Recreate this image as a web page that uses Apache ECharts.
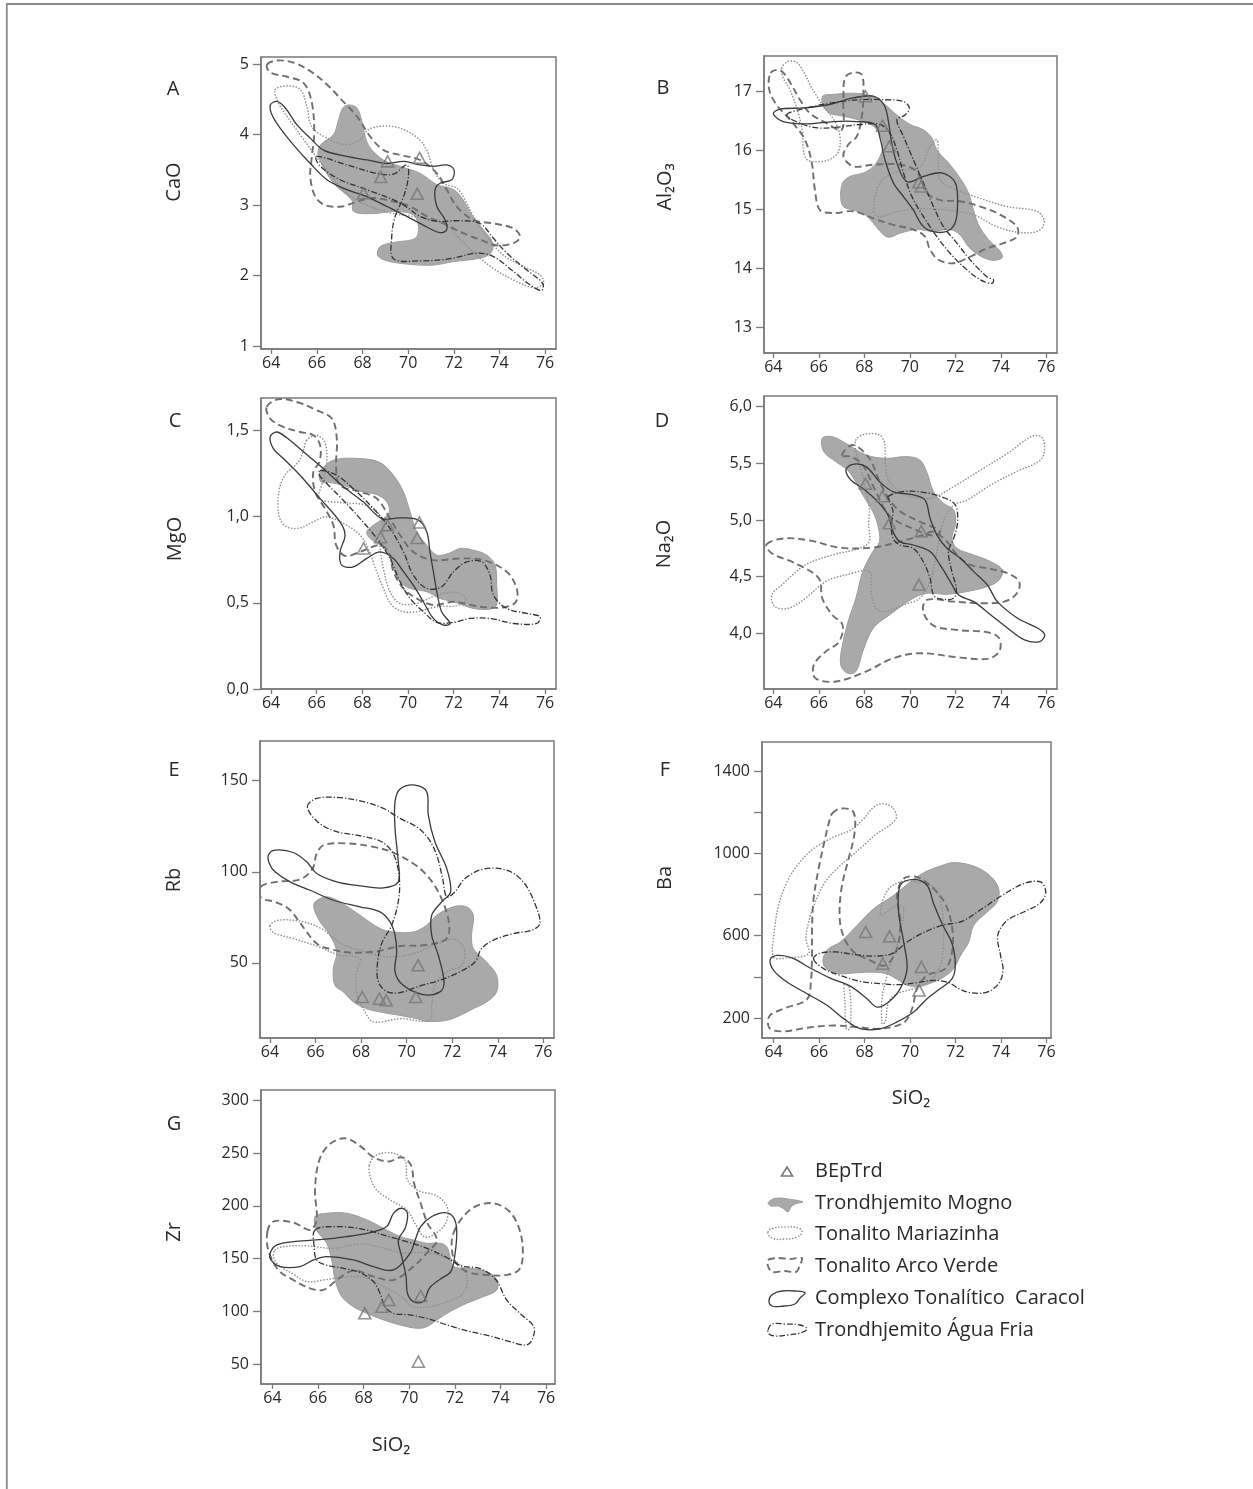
<!DOCTYPE html>
<html><head><meta charset="utf-8">
<script src="https://cdn.jsdelivr.net/npm/echarts@6/dist/echarts.min.js"></script>
<style>html,body{margin:0;padding:0;background:#fff}#c{width:1253px;height:1489px}</style>
</head><body><div id="c"></div>
<script>
// ---------- BEpTrd samples ----------
const SiO2_BEpTrd = [68.05, 68.8, 69.1, 70.4, 70.5];
const CaO_BEpTrd = [3.17, 3.40, 3.62, 3.16, 3.67];
const Al2O3_BEpTrd = [16.92, 16.42, 16.07, 15.46, 15.39];
const MgO_BEpTrd = [0.815, 0.88, 0.95, 0.875, 0.965];
const Na2O_BEpTrd = [5.32, 5.21, 4.97, 4.43, 4.90];
const Rb_BEpTrd = [31.3, 30.4, 29.5, 31.3, 48.7];
const Ba_BEpTrd = [618, 464, 597, 334, 448];
const Zr_BEpTrd = [98.1, 104.4, 110.8, 52.2, 114.6];

// ---------- Tick values ----------
const SiO2_ticks = [64, 66, 68, 70, 72, 74, 76];
const CaO_ticks = [1, 2, 3, 4, 5];
const Al2O3_ticks = [13, 14, 15, 16, 17];
const MgO_ticks = [0, 0.5, 1.0, 1.5];
const Na2O_ticks = [4.0, 4.5, 5.0, 5.5, 6.0];
const Rb_ticks = [50, 100, 150];
const Ba_ticks = [200, 400, 600, 800, 1000, 1200, 1400];
const Ba_labels = [200, 600, 1000, 1400];
const Zr_ticks = [50, 100, 150, 200, 250, 300];

// ---------- Field outlines (SiO2, oxide) ----------
// A: CaO
const A_Mogno = [[[67.39,4.42],[67.75,4.38],[67.97,4.19],[68.12,3.97],[68.34,3.81],[68.92,3.64],[69.65,3.55],[70.53,3.45],[71.26,3.29],[71.99,3.22],[72.42,3.07],[72.79,2.86],[73.30,2.65],[73.71,2.46],[73.59,2.31],[73.01,2.24],[71.99,2.20],[71.11,2.15],[70.09,2.16],[69.07,2.21],[68.66,2.29],[68.77,2.41],[69.36,2.47],[70.31,2.53],[70.45,2.69],[70.23,2.86],[69.36,2.91],[68.48,2.88],[67.61,2.91],[67.53,3.07],[66.73,3.31],[66.07,3.69],[66.15,3.85],[66.73,4.00],[66.95,4.21],[67.14,4.38]]];
const A_Mariazinha = [[[64.18,4.64],[64.69,4.69],[65.27,4.64],[65.56,4.40],[65.78,4.11],[66.44,3.95],[67.31,3.86],[67.90,3.93],[68.26,4.07],[68.92,4.12],[69.65,4.09],[70.38,3.96],[70.82,3.78],[71.11,3.50],[71.55,3.31],[72.13,3.24],[72.50,3.07],[72.86,2.84],[73.45,2.55],[74.18,2.29],[75.05,2.13],[75.78,2.01],[75.93,1.89],[75.49,1.83],[74.61,1.94],[73.74,2.10],[73.01,2.29],[72.28,2.51],[71.69,2.72],[70.82,2.81],[69.36,2.88],[68.34,2.98],[67.31,3.17],[66.29,3.55],[65.42,3.93],[64.69,4.26],[64.25,4.49]]];
const A_ArcoVerde = [[[63.81,4.99],[64.25,5.05],[64.98,5.02],[65.71,4.90],[66.44,4.71],[67.09,4.49],[67.75,4.26],[68.34,3.97],[68.92,3.78],[69.65,3.71],[70.53,3.64],[71.26,3.45],[71.69,3.22],[72.13,2.98],[72.86,2.79],[73.74,2.74],[74.61,2.67],[74.91,2.55],[74.61,2.46],[73.88,2.43],[73.15,2.51],[72.28,2.62],[71.55,2.74],[70.82,2.84],[70.09,2.98],[69.36,3.05],[68.48,3.10],[67.75,3.05],[67.09,2.98],[66.36,3.00],[65.93,3.12],[65.71,3.40],[65.78,3.69],[65.88,4.02],[65.78,4.45],[65.42,4.73],[64.69,4.82],[63.96,4.88]]];
const A_Caracol = [[[63.96,4.42],[64.25,4.47],[64.61,4.38],[65.12,4.14],[65.71,3.95],[66.29,3.78],[67.31,3.69],[68.19,3.64],[69.07,3.59],[69.80,3.62],[70.53,3.57],[71.11,3.55],[71.69,3.57],[72.01,3.50],[71.91,3.36],[71.40,3.31],[71.18,3.22],[71.26,2.98],[71.62,2.79],[71.69,2.65],[71.40,2.61],[70.82,2.69],[69.94,2.84],[69.07,2.98],[68.19,3.12],[67.31,3.22],[66.44,3.36],[65.71,3.59],[64.98,3.85],[64.39,4.09],[64.03,4.28]]];
const A_AguaFria = [[[65.97,3.69],[67.31,3.57],[68.63,3.45],[69.36,3.44],[69.94,3.57],[70.01,3.40],[69.80,3.12],[69.43,2.84],[69.28,2.55],[69.36,2.24],[70.53,2.21],[71.84,2.24],[73.01,2.32],[73.74,2.27],[74.61,2.06],[75.34,1.87],[75.85,1.79],[75.90,1.89],[75.20,2.08],[74.32,2.32],[73.74,2.53],[73.15,2.74],[72.28,2.78],[71.26,2.77],[70.53,2.84],[69.65,3.03],[68.19,3.22],[67.02,3.36],[66.15,3.55]]];

// B: Al2O3
const B_Mogno = [[[66.17,16.92],[66.64,16.95],[67.52,16.97],[68.25,16.93],[68.84,16.80],[69.43,16.60],[70.01,16.44],[70.60,16.35],[70.97,16.21],[71.19,16.01],[71.70,15.79],[72.21,15.53],[72.58,15.28],[72.80,14.99],[73.02,14.74],[73.46,14.49],[73.98,14.29],[74.05,14.18],[73.61,14.14],[73.02,14.23],[72.58,14.37],[72.21,14.57],[71.77,14.66],[71.04,14.63],[70.31,14.66],[69.57,14.60],[69.06,14.53],[68.69,14.63],[68.40,14.77],[68.03,14.91],[67.52,14.99],[67.08,15.05],[66.96,15.22],[67.05,15.45],[67.37,15.56],[67.96,15.62],[68.40,15.73],[68.69,15.90],[68.81,16.07],[68.69,16.27],[68.40,16.41],[67.81,16.51],[67.08,16.58],[66.49,16.63],[66.20,16.75]]];
const B_Mariazinha = [[[64.37,17.40],[64.66,17.51],[65.03,17.49],[65.32,17.34],[65.69,17.06],[66.20,16.75],[66.71,16.49],[66.93,16.24],[66.86,15.98],[66.49,15.85],[65.91,15.81],[65.47,15.85],[65.32,16.01],[65.29,16.29],[65.10,16.63],[64.73,17.03],[64.41,17.25]],
  [[68.40,14.97],[68.69,15.45],[69.43,15.64],[70.45,15.73],[70.89,16.07],[71.19,16.18],[71.26,15.84],[71.33,15.50],[72.07,15.33],[73.10,15.19],[74.27,15.05],[75.59,14.97],[75.91,14.80],[75.66,14.64],[74.86,14.61],[73.83,14.71],[72.80,14.91],[71.63,14.99],[70.31,15.01],[69.28,14.95],[68.69,14.88]]];
const B_ArcoVerde = [[[63.88,17.31],[64.29,17.36],[64.66,17.20],[65.17,16.86],[65.61,16.63],[66.35,16.46],[67.01,16.35],[67.08,16.86],[67.15,17.23],[67.52,17.32],[67.89,17.28],[67.96,16.97],[67.89,16.58],[67.67,16.24],[67.30,16.10],[67.08,15.90],[67.52,15.73],[68.40,15.76],[69.57,15.76],[70.31,15.64],[70.75,15.28],[71.33,15.16],[72.21,15.14],[73.10,15.05],[73.98,14.91],[74.71,14.71],[74.71,14.54],[74.12,14.43],[73.39,14.34],[72.65,14.20],[71.92,14.09],[71.26,14.15],[70.89,14.32],[70.67,14.54],[70.16,14.66],[69.28,14.74],[68.40,14.85],[67.52,14.97],[66.64,14.94],[66.05,14.99],[65.83,15.33],[65.69,15.79],[65.39,16.18],[64.81,16.49],[64.15,16.77],[63.82,17.03]]];
const B_Caracol = [[[64.00,16.62],[64.29,16.70],[65.32,16.72],[66.35,16.77],[67.52,16.89],[68.40,16.92],[68.87,16.77],[69.06,16.49],[69.21,16.12],[69.43,15.79],[69.87,15.47],[70.60,15.56],[71.41,15.62],[71.99,15.46],[72.10,15.11],[71.99,14.77],[71.63,14.63],[70.97,14.63],[70.53,14.74],[70.16,14.99],[69.72,15.22],[69.28,15.45],[68.91,15.84],[68.69,16.21],[68.47,16.44],[67.67,16.49],[66.64,16.49],[65.47,16.45],[64.44,16.49]]];
const B_AguaFria = [[[64.59,16.60],[65.47,16.72],[66.64,16.81],[67.81,16.86],[68.84,16.86],[69.72,16.83],[69.98,16.72],[69.79,16.60],[69.43,16.52],[69.72,16.24],[70.16,15.84],[70.60,15.45],[71.04,15.05],[71.48,14.71],[72.07,14.43],[72.65,14.15],[73.39,13.86],[73.68,13.81],[73.61,13.75],[73.10,13.81],[72.36,14.03],[71.77,14.26],[71.19,14.54],[70.60,14.88],[70.09,15.22],[69.72,15.62],[69.43,16.01],[69.13,16.29],[68.69,16.44],[67.81,16.44],[66.93,16.40],[66.05,16.38],[65.32,16.44]]];

// C: MgO
const C_Mogno = [[[66.15,1.259],[66.73,1.326],[67.90,1.336],[68.77,1.313],[69.36,1.239],[69.80,1.143],[70.09,1.027],[70.38,0.911],[70.82,0.834],[71.26,0.776],[71.77,0.786],[72.28,0.815],[72.86,0.805],[73.45,0.776],[73.81,0.718],[73.88,0.602],[73.88,0.487],[73.59,0.463],[72.86,0.467],[71.99,0.506],[71.40,0.525],[70.82,0.564],[70.09,0.583],[69.65,0.622],[69.36,0.699],[69.21,0.776],[68.77,0.834],[68.34,0.873],[68.19,0.911],[68.48,0.950],[68.92,0.988],[69.18,1.027],[69.07,1.085],[68.63,1.127],[67.90,1.147],[67.17,1.181],[66.58,1.197],[66.18,1.201]]];
const C_Mariazinha = [[[65.56,1.442],[66.00,1.471],[66.36,1.429],[66.44,1.317],[66.26,1.201],[66.12,1.104],[67.02,1.081],[68.04,1.069],[68.63,1.031],[68.89,0.950],[68.77,0.834],[68.92,0.699],[69.21,0.564],[69.65,0.496],[70.38,0.496],[71.26,0.544],[72.13,0.560],[72.54,0.515],[72.13,0.483],[71.26,0.477],[70.38,0.448],[69.80,0.448],[69.28,0.487],[68.92,0.583],[68.55,0.708],[68.26,0.815],[67.90,0.892],[67.31,0.950],[66.44,0.998],[65.85,0.969],[65.27,0.934],[64.69,0.940],[64.36,0.998],[64.34,1.143],[64.61,1.239],[65.20,1.317],[65.42,1.384]]];
const C_ArcoVerde = [[[63.81,1.635],[64.32,1.680],[65.12,1.664],[66.00,1.616],[66.66,1.568],[66.88,1.452],[66.85,1.278],[67.02,1.181],[67.90,1.143],[68.63,1.104],[69.21,0.988],[69.65,0.892],[70.23,0.795],[71.11,0.747],[72.28,0.757],[73.30,0.747],[74.32,0.680],[74.76,0.583],[74.73,0.506],[74.32,0.477],[73.59,0.471],[72.72,0.487],[71.99,0.506],[71.11,0.487],[70.38,0.525],[69.80,0.583],[69.36,0.680],[69.18,0.786],[68.77,0.834],[67.90,0.795],[67.24,0.772],[66.85,0.834],[66.73,0.950],[66.36,1.046],[65.93,1.143],[65.85,1.259],[66.12,1.317],[66.15,1.413],[65.85,1.471],[65.27,1.490],[64.54,1.519],[63.96,1.568]]];
const C_Caracol = [[[63.96,1.461],[64.25,1.490],[64.69,1.456],[65.42,1.375],[66.29,1.278],[67.17,1.172],[68.04,1.085],[68.85,0.988],[69.65,0.992],[70.45,0.979],[70.82,0.911],[70.96,0.795],[71.11,0.680],[71.26,0.564],[71.47,0.448],[71.84,0.380],[71.55,0.371],[71.11,0.409],[70.67,0.506],[70.23,0.602],[69.80,0.680],[69.36,0.757],[68.77,0.795],[68.19,0.757],[67.61,0.708],[67.09,0.718],[67.02,0.795],[67.24,0.892],[67.02,0.969],[66.15,1.104],[65.27,1.239],[64.54,1.336],[64.10,1.394]]];
const C_AguaFria = [[[66.15,1.268],[66.88,1.239],[67.75,1.143],[68.48,1.046],[69.21,0.931],[69.80,0.795],[70.23,0.660],[70.82,0.583],[71.47,0.593],[71.99,0.680],[72.57,0.737],[73.23,0.737],[73.59,0.660],[73.74,0.544],[74.32,0.467],[75.20,0.438],[75.78,0.419],[75.64,0.380],[74.61,0.380],[73.59,0.409],[72.72,0.409],[71.99,0.386],[71.26,0.386],[70.67,0.448],[70.09,0.525],[69.65,0.622],[69.21,0.757],[68.63,0.873],[67.90,0.988],[67.09,1.104],[66.44,1.191],[66.12,1.239]]];

// D: Na2O
const D_Mogno = [[[66.15,5.721],[66.59,5.735],[67.19,5.676],[68.07,5.574],[68.96,5.544],[69.85,5.559],[70.44,5.529],[70.74,5.426],[71.04,5.250],[71.48,5.147],[71.93,5.088],[72.00,4.956],[71.85,4.838],[72.07,4.750],[72.81,4.691],[73.56,4.632],[74.07,4.559],[73.93,4.471],[73.41,4.412],[72.52,4.368],[71.63,4.344],[70.74,4.353],[70.15,4.309],[69.70,4.250],[69.11,4.162],[68.52,4.074],[68.22,3.985],[67.93,3.838],[67.63,3.662],[67.26,3.647],[66.96,3.721],[67.04,3.897],[67.33,4.132],[67.63,4.309],[67.93,4.544],[68.37,4.721],[68.67,4.809],[68.59,4.956],[68.37,5.074],[67.93,5.221],[67.33,5.426],[66.74,5.515],[66.22,5.603]]];
const D_Mariazinha = [[[67.63,5.706],[68.00,5.756],[68.67,5.750],[68.89,5.676],[68.93,5.485],[69.11,5.338],[69.85,5.221],[70.89,5.191],[71.93,5.294],[73.11,5.441],[74.30,5.588],[75.33,5.735],[75.78,5.735],[75.93,5.618],[75.70,5.521],[74.74,5.432],[73.56,5.309],[72.52,5.176],[71.93,5.132],[71.56,5.029],[71.33,4.868],[71.11,4.632],[70.89,4.456],[70.44,4.309],[69.70,4.250],[68.96,4.191],[68.52,4.221],[68.30,4.368],[68.22,4.544],[67.19,4.515],[66.30,4.456],[65.41,4.309],[64.67,4.221],[64.07,4.235],[63.93,4.338],[64.37,4.426],[65.41,4.603],[66.59,4.691],[67.78,4.750],[68.22,4.809],[68.19,4.956],[68.22,5.103],[68.07,5.250],[67.85,5.456],[67.63,5.603]]];
const D_ArcoVerde = [[[63.70,4.785],[64.52,4.838],[65.70,4.815],[66.89,4.756],[68.37,4.756],[69.56,4.809],[70.59,4.868],[71.04,4.897],[71.63,4.809],[72.07,4.691],[72.67,4.603],[73.56,4.568],[74.30,4.529],[74.81,4.456],[74.71,4.353],[74.15,4.279],[73.26,4.265],[71.93,4.279],[70.74,4.294],[70.59,4.191],[71.04,4.068],[72.07,4.029],[73.41,4.009],[73.93,3.956],[73.93,3.838],[73.41,3.774],[72.22,3.785],[70.44,3.824],[69.26,3.779],[68.07,3.662],[66.74,3.574],[65.85,3.603],[65.78,3.721],[66.30,3.838],[66.89,3.926],[67.04,4.074],[66.59,4.162],[66.15,4.309],[66.00,4.485],[64.96,4.618],[63.93,4.706]],
  [[67.01,5.568],[67.48,5.662],[68.22,5.544],[68.70,5.324],[69.41,5.103],[70.44,4.985],[71.33,4.903],[71.04,4.862],[70.15,4.921],[69.11,5.038],[68.44,5.279],[67.93,5.485],[67.41,5.559]]];
const D_Caracol = [[[67.19,5.441],[67.48,5.491],[68.07,5.471],[68.67,5.338],[69.26,5.250],[70.15,5.221],[70.67,5.176],[70.89,5.015],[71.19,4.868],[71.63,4.750],[72.22,4.662],[72.81,4.544],[73.41,4.426],[73.85,4.279],[74.74,4.132],[75.63,4.044],[75.93,3.985],[75.70,3.926],[75.04,3.941],[74.30,4.044],[73.56,4.162],[72.81,4.279],[72.15,4.338],[71.78,4.456],[71.33,4.603],[70.89,4.721],[70.15,4.779],[69.56,4.809],[69.26,4.897],[69.04,5.044],[68.59,5.162],[67.93,5.279],[67.41,5.353]]];
const D_AguaFria = [[[69.04,5.206],[69.70,5.250],[70.59,5.244],[71.48,5.197],[72.00,5.132],[72.10,4.985],[71.93,4.838],[71.70,4.721],[71.85,4.544],[72.04,4.397],[71.93,4.309],[71.33,4.303],[71.04,4.338],[70.89,4.485],[70.59,4.632],[70.15,4.750],[69.56,4.779],[69.26,4.838],[69.19,4.956],[69.26,5.074],[69.11,5.162]]];

// E: Rb
const E_Mogno = [[[65.98,83.5],[66.49,86.3],[67.07,83.5],[67.95,76.2],[68.83,68.9],[69.41,67.0],[70.29,67.0],[70.88,70.7],[71.32,76.2],[72.05,80.8],[72.63,80.8],[72.93,76.2],[72.85,65.2],[72.93,57.9],[73.51,50.5],[73.95,43.2],[73.95,34.1],[73.51,28.6],[72.93,24.9],[72.34,21.2],[71.76,18.5],[70.88,17.9],[70.44,19.4],[69.71,21.2],[68.83,23.1],[68.24,24.9],[67.66,28.6],[67.22,34.1],[66.85,37.7],[66.78,46.9],[66.93,56.0],[66.63,65.2],[66.20,72.5],[65.93,79.9]]];
const E_Mariazinha = [[[64.00,70.7],[64.37,73.4],[65.32,72.9],[66.20,69.2],[67.15,60.6],[68.10,56.4],[69.27,53.3],[70.44,55.7],[71.46,61.2],[72.12,63.0],[72.52,57.9],[72.42,48.7],[71.76,45.1],[71.24,37.7],[71.10,26.7],[71.02,18.5],[69.71,19.4],[68.54,17.6],[68.17,23.1],[67.83,32.2],[67.80,45.1],[67.95,52.4],[67.07,54.2],[66.05,59.3],[65.02,63.4],[64.15,66.7]]];
const E_ArcoVerde = [[[63.59,91.8],[64.29,94.5],[65.32,95.8],[65.87,101.8],[66.05,110.1],[66.37,114.7],[67.37,115.6],[68.54,113.7],[69.41,110.6],[70.29,104.6],[70.88,98.2],[71.39,89.0],[71.79,76.2],[71.87,67.0],[71.68,62.5],[70.73,59.7],[69.71,59.3],[68.68,56.4],[67.51,55.7],[66.56,57.9],[66.05,60.6],[65.61,67.0],[65.24,73.4],[64.80,79.9],[64.22,83.5],[63.60,85.7]]];
const E_Caracol = [[[63.93,109.2],[64.22,111.9],[65.02,110.6],[65.61,105.5],[66.05,99.1],[66.93,94.5],[67.95,92.3],[68.98,91.2],[69.63,94.5],[69.63,105.5],[69.49,123.8],[69.49,138.5],[69.71,145.4],[70.37,147.6],[70.88,144.0],[70.95,131.1],[71.24,116.5],[71.76,101.8],[71.93,89.0],[71.54,83.5],[71.10,76.2],[71.10,65.2],[71.39,54.2],[71.64,39.6],[71.46,34.1],[70.73,32.6],[69.85,37.7],[69.49,45.1],[69.56,56.0],[69.49,65.2],[69.27,72.5],[68.83,78.0],[67.95,80.8],[66.78,84.4],[65.76,89.9],[64.88,94.5],[64.22,100.0],[63.97,104.6]]];
const E_AguaFria = [[[65.64,135.7],[66.05,140.3],[67.07,140.7],[68.10,138.5],[68.98,134.8],[69.71,129.3],[70.44,124.7],[70.95,118.3],[71.32,109.2],[71.58,96.3],[71.76,86.3],[72.12,89.0],[72.56,96.3],[73.37,101.5],[74.39,100.9],[75.12,94.5],[75.63,82.6],[75.85,71.6],[75.49,67.9],[74.68,66.1],[73.81,62.5],[73.29,57.9],[73.00,50.5],[72.27,44.7],[71.46,40.5],[70.59,37.4],[69.71,33.7],[69.12,34.4],[68.76,39.6],[68.71,48.7],[68.90,60.6],[69.34,70.7],[69.63,83.5],[69.68,96.3],[69.44,109.2],[68.90,116.5],[67.95,119.8],[66.93,122.0],[66.12,127.1]]];

// F: Ba
const F_Mogno = [[[66.20,496],[66.42,537],[66.93,569],[67.67,650],[68.40,731],[69.28,796],[70.01,861],[70.60,906],[71.33,938],[71.92,955],[72.80,938],[73.53,890],[73.90,828],[73.83,764],[73.39,715],[72.80,650],[72.58,569],[72.21,501],[71.92,440],[71.55,404],[71.04,375],[70.45,355],[69.87,359],[69.43,388],[68.99,414],[68.40,423],[67.67,420],[66.93,415],[66.42,432],[66.20,459]]];
const F_Mariazinha = [[[64.00,496],[64.03,618],[64.22,747],[64.59,861],[65.10,950],[65.76,1023],[66.64,1079],[67.37,1112],[67.96,1168],[68.40,1225],[68.77,1241],[69.21,1225],[69.40,1177],[69.13,1139],[68.55,1096],[67.96,1039],[67.37,982],[66.79,926],[66.27,861],[65.83,764],[65.54,666],[65.42,585],[65.54,513],[64.59,492]],
  [[68.69,699],[68.96,812],[69.55,861],[70.31,861],[71.04,836],[71.41,731],[71.48,585],[71.33,456],[70.89,383],[70.16,343],[69.43,318],[69.06,278],[68.91,181],[68.77,172],[68.77,294],[68.99,407],[69.28,505],[69.57,618],[69.72,731],[69.43,747],[68.99,715]],
  [[67.11,367],[67.34,343],[67.37,148],[67.20,148],[67.14,278]]];
const F_ArcoVerde = [[[66.57,1193],[66.93,1217],[67.45,1209],[67.59,1160],[67.52,1071],[67.26,958],[67.01,845],[66.90,715],[67.01,618],[67.45,529],[68.25,480],[68.91,456],[69.43,537],[69.57,666],[69.43,796],[69.72,877],[70.31,885],[70.97,836],[71.55,755],[71.85,642],[71.85,521],[71.55,440],[70.75,407],[70.31,343],[70.09,245],[69.72,177],[68.69,148],[67.67,156],[66.64,164],[65.47,153],[64.44,135],[63.82,151],[63.82,210],[64.44,245],[65.47,291],[65.64,375],[65.69,504],[65.69,634],[65.76,780],[65.98,926],[66.23,1055],[66.42,1144]]];
const F_Caracol = [[[63.85,485],[64.15,504],[64.81,492],[65.61,443],[66.49,394],[67.37,355],[68.11,294],[68.55,253],[69.06,278],[69.57,343],[69.87,440],[69.72,569],[69.50,715],[69.57,845],[70.16,874],[70.75,845],[71.04,755],[71.41,658],[71.85,561],[71.99,456],[71.85,391],[71.33,343],[70.75,294],[70.16,229],[69.43,181],[68.69,148],[67.81,148],[67.08,197],[66.35,262],[65.47,318],[64.59,375],[64.00,432]]];
const F_AguaFria = [[[65.76,485],[65.98,513],[66.71,521],[67.59,508],[68.40,501],[69.21,513],[69.87,569],[70.60,615],[71.41,650],[72.29,670],[73.17,731],[74.05,796],[75.00,853],[75.74,861],[75.97,812],[75.74,760],[75.00,715],[74.27,674],[73.86,602],[73.98,504],[74.09,432],[73.90,367],[73.39,326],[72.65,323],[72.14,343],[71.70,372],[71.04,383],[70.31,372],[69.57,362],[68.69,367],[67.81,378],[66.93,407],[66.20,440]]];

// G: Zr
const G_Mogno = [[[65.87,189.9],[66.38,193.0],[67.26,193.0],[68.14,186.7],[69.01,177.2],[69.60,170.9],[70.18,167.7],[70.77,164.6],[71.35,164.6],[71.64,161.4],[71.79,151.9],[71.94,142.4],[72.67,140.8],[73.40,137.7],[73.84,129.7],[73.84,120.3],[73.25,113.9],[72.52,107.6],[71.79,99.7],[71.21,91.8],[70.77,85.4],[70.33,83.9],[69.60,87.0],[68.87,91.8],[68.14,98.1],[67.55,104.4],[67.04,113.9],[66.75,129.7],[66.60,148.7],[66.38,164.6],[65.94,177.2]]];
const G_Mariazinha = [[[68.25,238.9],[68.57,248.4],[69.31,250.0],[69.82,243.0],[69.92,224.7],[70.40,214.6],[71.21,209.5],[71.67,198.7],[71.61,184.2],[71.21,174.7],[70.69,170.3],[70.33,180.4],[69.89,196.2],[69.16,205.7],[68.57,215.2],[68.31,226.3]],
  [[64.12,158.2],[64.48,161.4],[65.51,162.0],[66.67,159.8],[67.84,163.9],[68.72,160.8],[69.60,155.7],[70.62,155.7],[71.50,151.9],[72.23,144.0],[72.55,129.7],[72.37,117.1],[71.79,110.1],[70.91,104.4],[70.18,104.4],[69.60,114.6],[68.87,123.4],[67.99,132.3],[67.11,132.3],[66.24,129.7],[65.51,128.2],[64.85,136.1],[64.26,144.0],[64.04,151.9]]];
const G_ArcoVerde = [[[63.78,175.6],[64.04,185.1],[64.92,184.2],[65.65,177.2],[65.94,186.7],[65.87,215.2],[66.06,243.7],[66.53,258.9],[67.19,264.2],[67.84,257.0],[68.43,246.2],[69.09,242.1],[69.67,246.2],[70.07,238.9],[70.21,221.5],[70.50,202.5],[70.80,183.5],[71.21,167.7],[70.77,155.1],[70.18,142.4],[69.31,129.7],[68.43,132.9],[67.55,138.6],[66.82,129.7],[66.24,120.3],[65.65,121.8],[64.92,129.7],[64.26,139.2],[63.82,158.2]],
  [[71.94,174.1],[72.37,189.9],[72.96,200.0],[73.69,202.5],[74.35,195.6],[74.79,180.4],[74.98,158.2],[74.83,139.9],[74.27,134.5],[73.40,134.5],[72.52,137.7],[72.01,147.2],[71.86,161.4]]];
const G_Caracol = [[[63.90,155.1],[64.19,163.0],[64.92,166.1],[65.94,167.7],[67.26,170.9],[68.28,174.7],[69.01,180.4],[69.31,193.0],[69.67,197.8],[69.92,193.0],[69.82,178.8],[69.52,167.7],[69.67,151.9],[69.86,132.9],[69.92,117.1],[70.18,109.2],[70.62,109.2],[70.88,121.8],[71.35,130.4],[71.82,137.7],[72.01,155.1],[72.08,177.2],[71.94,189.2],[71.57,193.7],[70.99,189.9],[70.50,180.4],[70.26,167.7],[70.04,155.1],[69.31,139.2],[68.43,142.4],[67.55,148.7],[66.38,151.9],[65.80,148.7],[65.21,142.4],[64.34,142.4],[63.94,148.7]]];
const G_AguaFria = [[[65.87,177.2],[66.82,180.4],[67.99,177.8],[69.01,171.5],[69.89,166.1],[70.77,159.8],[71.57,151.9],[72.30,143.0],[73.11,140.5],[73.81,129.7],[74.27,110.8],[74.93,96.5],[75.47,84.8],[75.37,72.2],[75.12,68.0],[74.42,71.2],[73.54,76.6],[72.67,80.7],[71.79,86.1],[70.91,92.4],[70.04,96.5],[69.31,98.1],[68.94,104.4],[68.72,117.1],[68.43,128.2],[67.84,136.7],[67.11,140.8],[66.38,143.7],[65.94,148.7],[65.83,161.4]]];

// ---------- Layout / style ----------
const FONT = '"Open Sans", Lato, "DejaVu Sans", sans-serif';
const TXT = '#2a2a2a';
const AX = '#7a7a7a';
const STY = {
  mogno: {fill: '#a9a9a9', stroke: '#9d9d9d', lineWidth: 1},
  mariazinha: {fill: 'none', stroke: '#8e8e8e', lineWidth: 1.6, lineDash: [0.1, 3], lineCap: 'round'},
  arco: {fill: 'none', stroke: '#6f6f6f', lineWidth: 1.9, lineDash: [7, 4]},
  caracol: {fill: 'none', stroke: '#3a3a3a', lineWidth: 1.3},
  agua: {fill: 'none', stroke: '#333333', lineWidth: 1.3, lineDash: [6, 2, 1.2, 2]}
};
const comma = v => v.toFixed(1).replace('.', ',');

const panels = [
  {box: [261, 57, 295, 292], x: [63.55, 76.48], y: [0.96, 5.1], yt: CaO_ticks, yl: CaO_ticks, fmt: v => String(v), pts: CaO_BEpTrd,
   f: {mogno: A_Mogno, mariazinha: A_Mariazinha, arco: A_ArcoVerde, caracol: A_Caracol, agua: A_AguaFria}},
  {box: [764, 56, 293, 297], x: [63.59, 76.47], y: [12.57, 17.6], yt: Al2O3_ticks, yl: Al2O3_ticks, fmt: v => String(v), pts: Al2O3_BEpTrd,
   f: {mogno: B_Mogno, mariazinha: B_Mariazinha, arco: B_ArcoVerde, caracol: B_Caracol, agua: B_AguaFria}},
  {box: [261, 398, 295, 291], x: [63.56, 76.48], y: [0, 1.687], yt: MgO_ticks, yl: MgO_ticks, fmt: comma, pts: MgO_BEpTrd,
   f: {mogno: C_Mogno, mariazinha: C_Mariazinha, arco: C_ArcoVerde, caracol: C_Caracol, agua: C_AguaFria}},
  {box: [764, 396, 293, 293], x: [63.59, 76.47], y: [3.508, 6.094], yt: Na2O_ticks, yl: Na2O_ticks, fmt: comma, pts: Na2O_BEpTrd,
   f: {mogno: D_Mogno, mariazinha: D_Mariazinha, arco: D_ArcoVerde, caracol: D_Caracol, agua: D_AguaFria}},
  {box: [260, 741, 294, 297], x: [63.56, 76.47], y: [8.8, 171.8], yt: Rb_ticks, yl: Rb_ticks, fmt: v => String(v), pts: Rb_BEpTrd,
   f: {mogno: E_Mogno, mariazinha: E_Mariazinha, arco: E_ArcoVerde, caracol: E_Caracol, agua: E_AguaFria}},
  {box: [762, 742, 289, 296], x: [63.49, 76.2], y: [103, 1541], yt: Ba_ticks, yl: Ba_labels, fmt: v => String(v), pts: Ba_BEpTrd,
   f: {mogno: F_Mogno, mariazinha: F_Mariazinha, arco: F_ArcoVerde, caracol: F_Caracol, agua: F_AguaFria}},
  {box: [261, 1090, 294, 294], x: [63.5, 76.39], y: [31, 310], yt: Zr_ticks, yl: Zr_ticks, fmt: v => String(v), pts: Zr_BEpTrd,
   f: {mogno: G_Mogno, mariazinha: G_Mariazinha, arco: G_ArcoVerde, caracol: G_Caracol, agua: G_AguaFria}}
];

const grids = [], xAxes = [], yAxes = [], series = [];
const order = ['mogno', 'mariazinha', 'arco', 'caracol', 'agua'];

panels.forEach((p, i) => {
  grids.push({left: p.box[0], top: p.box[1], width: p.box[2], height: p.box[3], show: true,
    borderColor: AX, borderWidth: 1.5, backgroundColor: 'transparent', containLabel: false, outerBoundsMode: 'none'});
  xAxes.push({gridIndex: i, type: 'value', min: p.x[0], max: p.x[1],
    axisLine: {show: true, onZero: false, lineStyle: {color: AX, width: 1.5}},
    axisTick: {show: true, length: 5, customValues: SiO2_ticks, lineStyle: {color: AX, width: 1.3}},
    axisLabel: {show: true, customValues: SiO2_ticks, margin: 6, fontSize: 16, color: TXT, fontFamily: FONT},
    splitLine: {show: false}});
  yAxes.push({gridIndex: i, type: 'value', min: p.y[0], max: p.y[1],
    axisLine: {show: true, onZero: false, lineStyle: {color: AX, width: 1.5}},
    axisTick: {show: true, length: 8, customValues: p.yt, lineStyle: {color: AX, width: 1.3}},
    axisLabel: {show: true, customValues: p.yl, margin: 12, fontSize: 16, color: TXT, fontFamily: FONT, formatter: p.fmt},
    splitLine: {show: false}});
  order.forEach((key, k) => {
    p.f[key].forEach(poly => {
      series.push({
        type: 'custom', name: key, xAxisIndex: i, yAxisIndex: i, z: 2 + k, clip: true, silent: true,
        data: poly,
        renderItem: function (params, api) {
          if (params.dataIndex !== 0) return null;
          const pts = poly.map(pt => api.coord(pt));
          return {type: 'polygon', shape: {points: pts, smooth: 0.35}, style: Object.assign({}, STY[key])};
        }
      });
    });
  });
  series.push({
    type: 'scatter', name: 'BEpTrd', xAxisIndex: i, yAxisIndex: i, z: 10, silent: true,
    symbol: 'triangle', symbolSize: [12, 11],
    itemStyle: {color: 'rgba(0,0,0,0)', borderColor: '#777', borderWidth: 1.6},
    data: SiO2_BEpTrd.map((s, j) => [s, p.pts[j]])
  });
});

// ---------- Text and legend (graphic) ----------
function txt(str, x, y, size, rot) {
  return {type: 'text', x: x, y: y, rotation: rot || 0, silent: true,
    style: {text: str, font: size + 'px ' + FONT, fill: TXT, align: 'center', verticalAlign: 'middle',
      textAlign: 'center', textVerticalAlign: 'middle'}};
}
function ltxt(str, x, y) {
  return {type: 'text', x: x, y: y, silent: true,
    style: {text: str, font: '20px ' + FONT, fill: TXT, align: 'left', verticalAlign: 'middle',
      textAlign: 'left', textVerticalAlign: 'middle'}};
}
const R90 = Math.PI / 2;
const graphics = [
  {type: 'line', silent: true, shape: {x1: 6, y1: 4, x2: 1253, y2: 4}, style: {stroke: '#8a8a8a', lineWidth: 1.8}},
  {type: 'line', silent: true, shape: {x1: 6.8, y1: 4, x2: 6.8, y2: 1489}, style: {stroke: '#8a8a8a', lineWidth: 1.8}},
  txt('A', 173, 89, 20), txt('B', 663, 88, 20), txt('C', 175, 421, 20), txt('D', 662, 421, 20),
  txt('E', 174, 770, 20), txt('F', 665, 770, 20), txt('G', 174, 1124, 20),
  txt('CaO', 174, 182, 20, R90), txt('Al\u2082O\u2083', 665, 187, 20, R90), txt('MgO', 175, 539, 20, R90),
  txt('Na\u2082O', 664, 544, 20, R90), txt('Rb', 174, 880, 20, R90), txt('Ba', 665, 878, 20, R90),
  txt('Zr', 174, 1232, 20, R90),
  txt('SiO\u2082', 911, 1098, 20), txt('SiO\u2082', 391, 1445, 20),
  // legend icons
  {type: 'polygon', silent: true, shape: {points: [[787, 1167], [792.5, 1176], [781.5, 1176]]}, style: {fill: 'none', stroke: '#777', lineWidth: 1.6}},
  {type: 'polygon', silent: true, shape: {points: [[768, 1203], [773, 1199], [780, 1198], [788, 1199], [795, 1200], [803, 1202], [795, 1204], [791, 1207], [788, 1212], [784, 1209], [778, 1206], [771, 1206]], smooth: 0.3}, style: STY.mogno},
  {type: 'polygon', silent: true, shape: {points: [[768, 1232], [774, 1228], [785, 1227], [798, 1228], [802, 1232], [797, 1237], [785, 1239], [772, 1238]], smooth: 0.5}, style: STY.mariazinha},
  {type: 'polygon', silent: true, shape: {points: [[768, 1260], [778, 1258], [790, 1259], [802, 1258], [800, 1265], [796, 1272], [785, 1271], [772, 1272], [768, 1266]], smooth: 0.3}, style: STY.arco},
  {type: 'polygon', silent: true, shape: {points: [[769, 1300], [773, 1294], [782, 1291], [795, 1291], [805, 1293], [800, 1298], [795, 1304], [784, 1306], [772, 1306]], smooth: 0.4}, style: STY.caracol},
  {type: 'polygon', silent: true, shape: {points: [[768, 1330], [772, 1324], [785, 1324], [800, 1325], [807, 1329], [800, 1333], [788, 1335], [775, 1336], [769, 1334]], smooth: 0.4}, style: STY.agua},
  ltxt('BEpTrd', 815, 1171), ltxt('Trondhjemito Mogno', 815, 1203), ltxt('Tonalito Mariazinha', 815, 1234),
  ltxt('Tonalito Arco Verde', 815, 1266), ltxt('Complexo Tonalítico  Caracol', 815, 1298), ltxt('Trondhjemito Água Fria', 815, 1330)
];

const chart = echarts.init(document.getElementById('c'), null, {renderer: 'canvas'});
chart.setOption({
  animation: false,
  backgroundColor: '#ffffff',
  textStyle: {fontFamily: FONT},
  grid: grids, xAxis: xAxes, yAxis: yAxes, series: series,
  graphic: {elements: graphics}
});
</script></body></html>
